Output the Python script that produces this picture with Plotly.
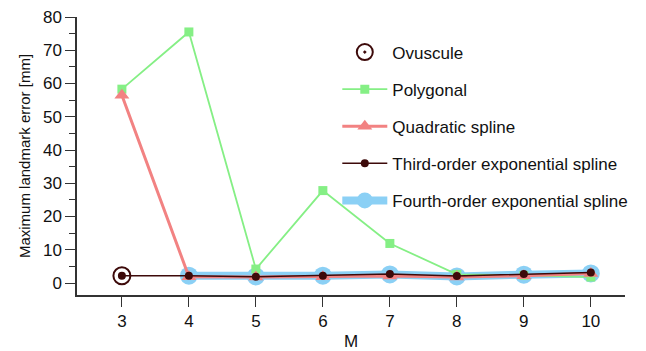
import plotly.graph_objects as go

M = [3, 4, 5, 6, 7, 8, 9, 10]
M4 = [4, 5, 6, 7, 8, 9, 10]
ovuscule_M = [3]
ovuscule = [2.2]
polygonal = [58.3, 75.5, 4.2, 27.8, 11.9, 2.6, 2.3, 1.8]
quadratic = [56.5, 1.9, 1.8, 1.9, 2.1, 1.8, 2.2, 2.9]
third = [2.2, 2.2, 1.9, 2.2, 2.7, 2.1, 2.7, 3.2]
fourth = [2.2, 2.0, 2.2, 2.6, 2.0, 2.5, 2.9]

dark = "#3d0a0a"
green = "#85ef85"
salmon = "#f28282"
blue = "#8bd0f5"
font = "Liberation Sans"

fig = go.Figure()
fig.add_trace(go.Scatter(x=M4, y=fourth, mode="lines+markers", name="Fourth-order exponential spline",
                         line=dict(color=blue, width=8), marker=dict(color=blue, size=18, symbol="circle"),
                         legendrank=5, legendgroup="e"))
fig.add_trace(go.Scatter(x=M, y=polygonal, mode="lines+markers", name="Polygonal",
                         line=dict(color=green, width=1.8), marker=dict(color=green, size=9, symbol="square"),
                         legendrank=2, legendgroup="b"))
fig.add_trace(go.Scatter(x=M, y=quadratic, mode="lines+markers", name="Quadratic spline",
                         line=dict(color=salmon, width=3), marker=dict(color=salmon, size=13, symbol="triangle-up"),
                         legendrank=3, legendgroup="c"))
fig.add_trace(go.Scatter(x=M, y=third, mode="lines+markers", name="Third-order exponential spline",
                         line=dict(color=dark, width=1.5), marker=dict(color=dark, size=8, symbol="circle"),
                         legendrank=4, legendgroup="d"))
fig.add_trace(go.Scatter(x=ovuscule_M, y=ovuscule, mode="markers", name="Ovuscule",
                         marker=dict(color=dark, size=17, symbol="circle-open-dot", line=dict(width=2, color=dark)),
                         legendrank=1, legendgroup="a"))

fig.update_layout(
    width=646, height=351,
    margin=dict(l=77, r=21, t=17, b=56, autoexpand=False),
    paper_bgcolor="white", plot_bgcolor="white",
    font=dict(family=font, size=17, color="#111"),
    showlegend=True,
    legend=dict(x=0.475, y=0.937, xanchor="left", yanchor="top", bgcolor="rgba(0,0,0,0)",
                font=dict(size=17, color="#111"), itemwidth=45, tracegroupgap=12,
                traceorder="grouped"),
    xaxis=dict(range=[2.33, 10.51], tickvals=M, ticks="outside", ticklen=10, tickwidth=1.2,
               tickcolor="#333", showline=True, linecolor="#333", linewidth=1.5,
               showgrid=False, zeroline=False, tickfont=dict(size=17), automargin=False,
               title=dict(text="M", font=dict(size=17), standoff=6)),
    yaxis=dict(range=[-3.6, 80], tickvals=[0, 10, 20, 30, 40, 50, 60, 70, 80], ticks="outside",
               ticklen=10, tickwidth=1.2, tickcolor="#333", showline=True, linecolor="#333", linewidth=1.5,
               showgrid=False, zeroline=False, tickfont=dict(size=17), automargin=False,
               minor=dict(tickvals=[5, 15, 25, 35, 45, 55, 65, 75], ticks="outside", ticklen=6, tickcolor="#333", tickwidth=1.2),
               title=dict(text="Maximum landmark error [mm]", font=dict(size=15), standoff=9)),
)

fig.write_html("out.html")
